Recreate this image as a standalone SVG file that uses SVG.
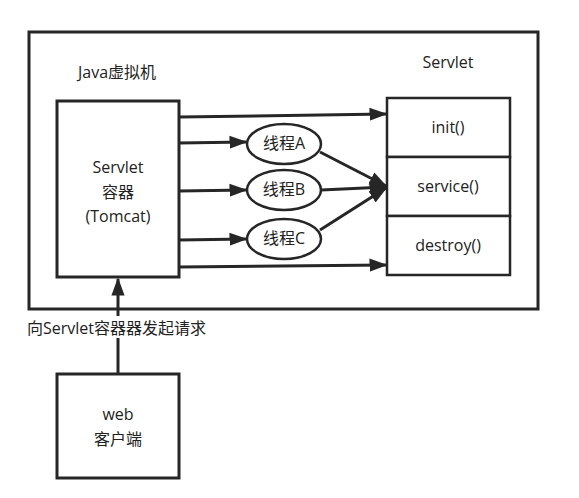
<svg xmlns="http://www.w3.org/2000/svg" width="579" height="498" viewBox="0 0 579 498">
<style>
.box{fill:#fff;stroke:#262626;stroke-width:3}
.cell{fill:#fff;stroke:#262626;stroke-width:2.5}
.ell{fill:#fff;stroke:#262626;stroke-width:2.5}
.ln{fill:none;stroke:#262626;stroke-width:3}
text{font-family:"Open Sans","Noto Sans CJK SC",sans-serif;font-size:16px;fill:#222}
.c{text-anchor:middle}
</style>
<defs>
<marker id="ah" markerWidth="6" markerHeight="6" refX="5.5" refY="3" orient="auto" markerUnits="strokeWidth" viewBox="0 0 6 6">
<path d="M0,0.8 L6,3 L0,5.2 Z" fill="#262626"/>
</marker>
</defs>
<rect width="579" height="498" fill="#fff"/>
<g id="jvm">
<rect class="box" x="29" y="32" width="509" height="277"/>
<text x="78" y="78">Java虚拟机</text>
</g>
<text x="448" y="68" class="c" id="servlet-label">Servlet</text>
<g id="container">
<rect class="box" x="57" y="101" width="122" height="176"/>
<text x="118" y="173" class="c">Servlet</text>
<text x="118" y="198" class="c">容器</text>
<text x="118" y="222" class="c">(Tomcat)</text>
</g>
<g id="servlet">
<rect class="cell" x="387" y="98" width="123" height="59"/>
<rect class="cell" x="387" y="157" width="123" height="59"/>
<rect class="cell" x="387" y="216" width="123" height="59"/>
<text x="448" y="133" class="c">init()</text>
<text x="448" y="192" class="c">service()</text>
<text x="448" y="251" class="c">destroy()</text>
</g>
<g id="threadA"><ellipse class="ell" cx="284" cy="144" rx="37" ry="20"/><text x="284" y="149" class="c">线程A</text></g>
<g id="threadB"><ellipse class="ell" cx="284" cy="190" rx="37" ry="20"/><text x="284" y="195" class="c">线程B</text></g>
<g id="threadC"><ellipse class="ell" cx="284" cy="239" rx="37" ry="20"/><text x="284" y="244" class="c">线程C</text></g>
<g id="client">
<rect class="box" x="57" y="374" width="122" height="104"/>
<text x="118" y="420" class="c">web</text>
<text x="118" y="445" class="c">客户端</text>
</g>
<g id="connectors">
<line class="ln" x1="179" y1="117" x2="386" y2="114" marker-end="url(#ah)"/>
<line class="ln" x1="179" y1="143" x2="246" y2="142" marker-end="url(#ah)"/>
<line class="ln" x1="179" y1="191" x2="246" y2="190" marker-end="url(#ah)"/>
<line class="ln" x1="179" y1="240" x2="246" y2="239" marker-end="url(#ah)"/>
<line class="ln" x1="179" y1="267" x2="386" y2="265" marker-end="url(#ah)"/>
<line class="ln" x1="320" y1="152" x2="386" y2="186" marker-end="url(#ah)"/>
<line class="ln" x1="321" y1="190" x2="386" y2="187" marker-end="url(#ah)"/>
<line class="ln" x1="320" y1="230" x2="386" y2="188" marker-end="url(#ah)"/>
<line class="ln" x1="118" y1="374" x2="118" y2="279" marker-end="url(#ah)"/>
</g>
<rect x="27" y="316" width="186" height="22" fill="#fff"/>
<text x="27" y="334" id="request-label">向Servlet容器器发起请求</text>
</svg>
